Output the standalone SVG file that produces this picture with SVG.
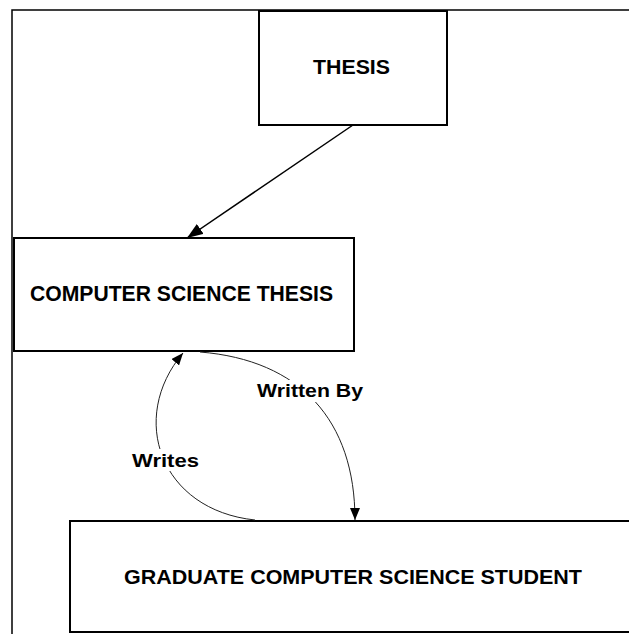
<svg xmlns="http://www.w3.org/2000/svg" width="629" height="634" viewBox="0 0 629 634">
<style>
.frame{fill:none;stroke:#000;stroke-width:1.5}
.box{fill:#fff;stroke:#000;stroke-width:2}
.title{font-family:"Liberation Sans",Arial,sans-serif;font-weight:bold;fill:#000}
.edge{fill:none;stroke:#222;stroke-width:1}
.lbl{font-family:"Liberation Sans",Arial,sans-serif;font-weight:bold;font-size:19px;fill:#000}
</style>
<defs>
<marker id="arr" viewBox="0 0 12 10" refX="12" refY="5" markerWidth="12" markerHeight="10" markerUnits="userSpaceOnUse" orient="auto">
<path d="M0,0 L12,5 L0,10 Z" fill="#000"/>
</marker>
<marker id="arrBig" viewBox="0 0 16 12" refX="16" refY="6" markerWidth="16" markerHeight="12" markerUnits="userSpaceOnUse" orient="auto">
<path d="M0,0 L16,6 L0,12 Z" fill="#000"/>
</marker>
</defs>
<rect width="629" height="634" fill="#fff"/>
<path class="frame" d="M12,634 L12,10 L629,10"/>
<g id="thesis">
<rect class="box" x="259" y="11" width="188" height="114"/>
<text class="title" x="313" y="74" font-size="21" textLength="77" lengthAdjust="spacingAndGlyphs">THESIS</text>
</g>
<g id="cs-thesis">
<rect class="box" x="14" y="238" width="340" height="113"/>
<text class="title" x="30" y="301" font-size="22" textLength="303" lengthAdjust="spacingAndGlyphs">COMPUTER SCIENCE THESIS</text>
</g>
<g id="gcs-student">
<rect class="box" x="70" y="521" width="600" height="111" stroke-width="1.5"/>
<text class="title" x="124" y="584" font-size="20" textLength="458" lengthAdjust="spacingAndGlyphs">GRADUATE COMPUTER SCIENCE STUDENT</text>
</g>
<g id="connectors">
<line x1="353" y1="125" x2="187" y2="238" stroke="#000" stroke-width="1.5" marker-end="url(#arrBig)"/>
<path class="edge" d="M200,352 C300,360 355,420 355,520" marker-end="url(#arr)"/>
<path class="edge" d="M255,520 C160,510 128,418 183,353" marker-end="url(#arr)"/>
<rect x="255" y="380" width="110" height="22" fill="#fff"/>
<text class="lbl" x="257" y="397" textLength="106" lengthAdjust="spacingAndGlyphs">Written By</text>
<rect x="130" y="449" width="71" height="22" fill="#fff"/>
<text class="lbl" x="132" y="467" textLength="67" lengthAdjust="spacingAndGlyphs">Writes</text>
</g>
</svg>
